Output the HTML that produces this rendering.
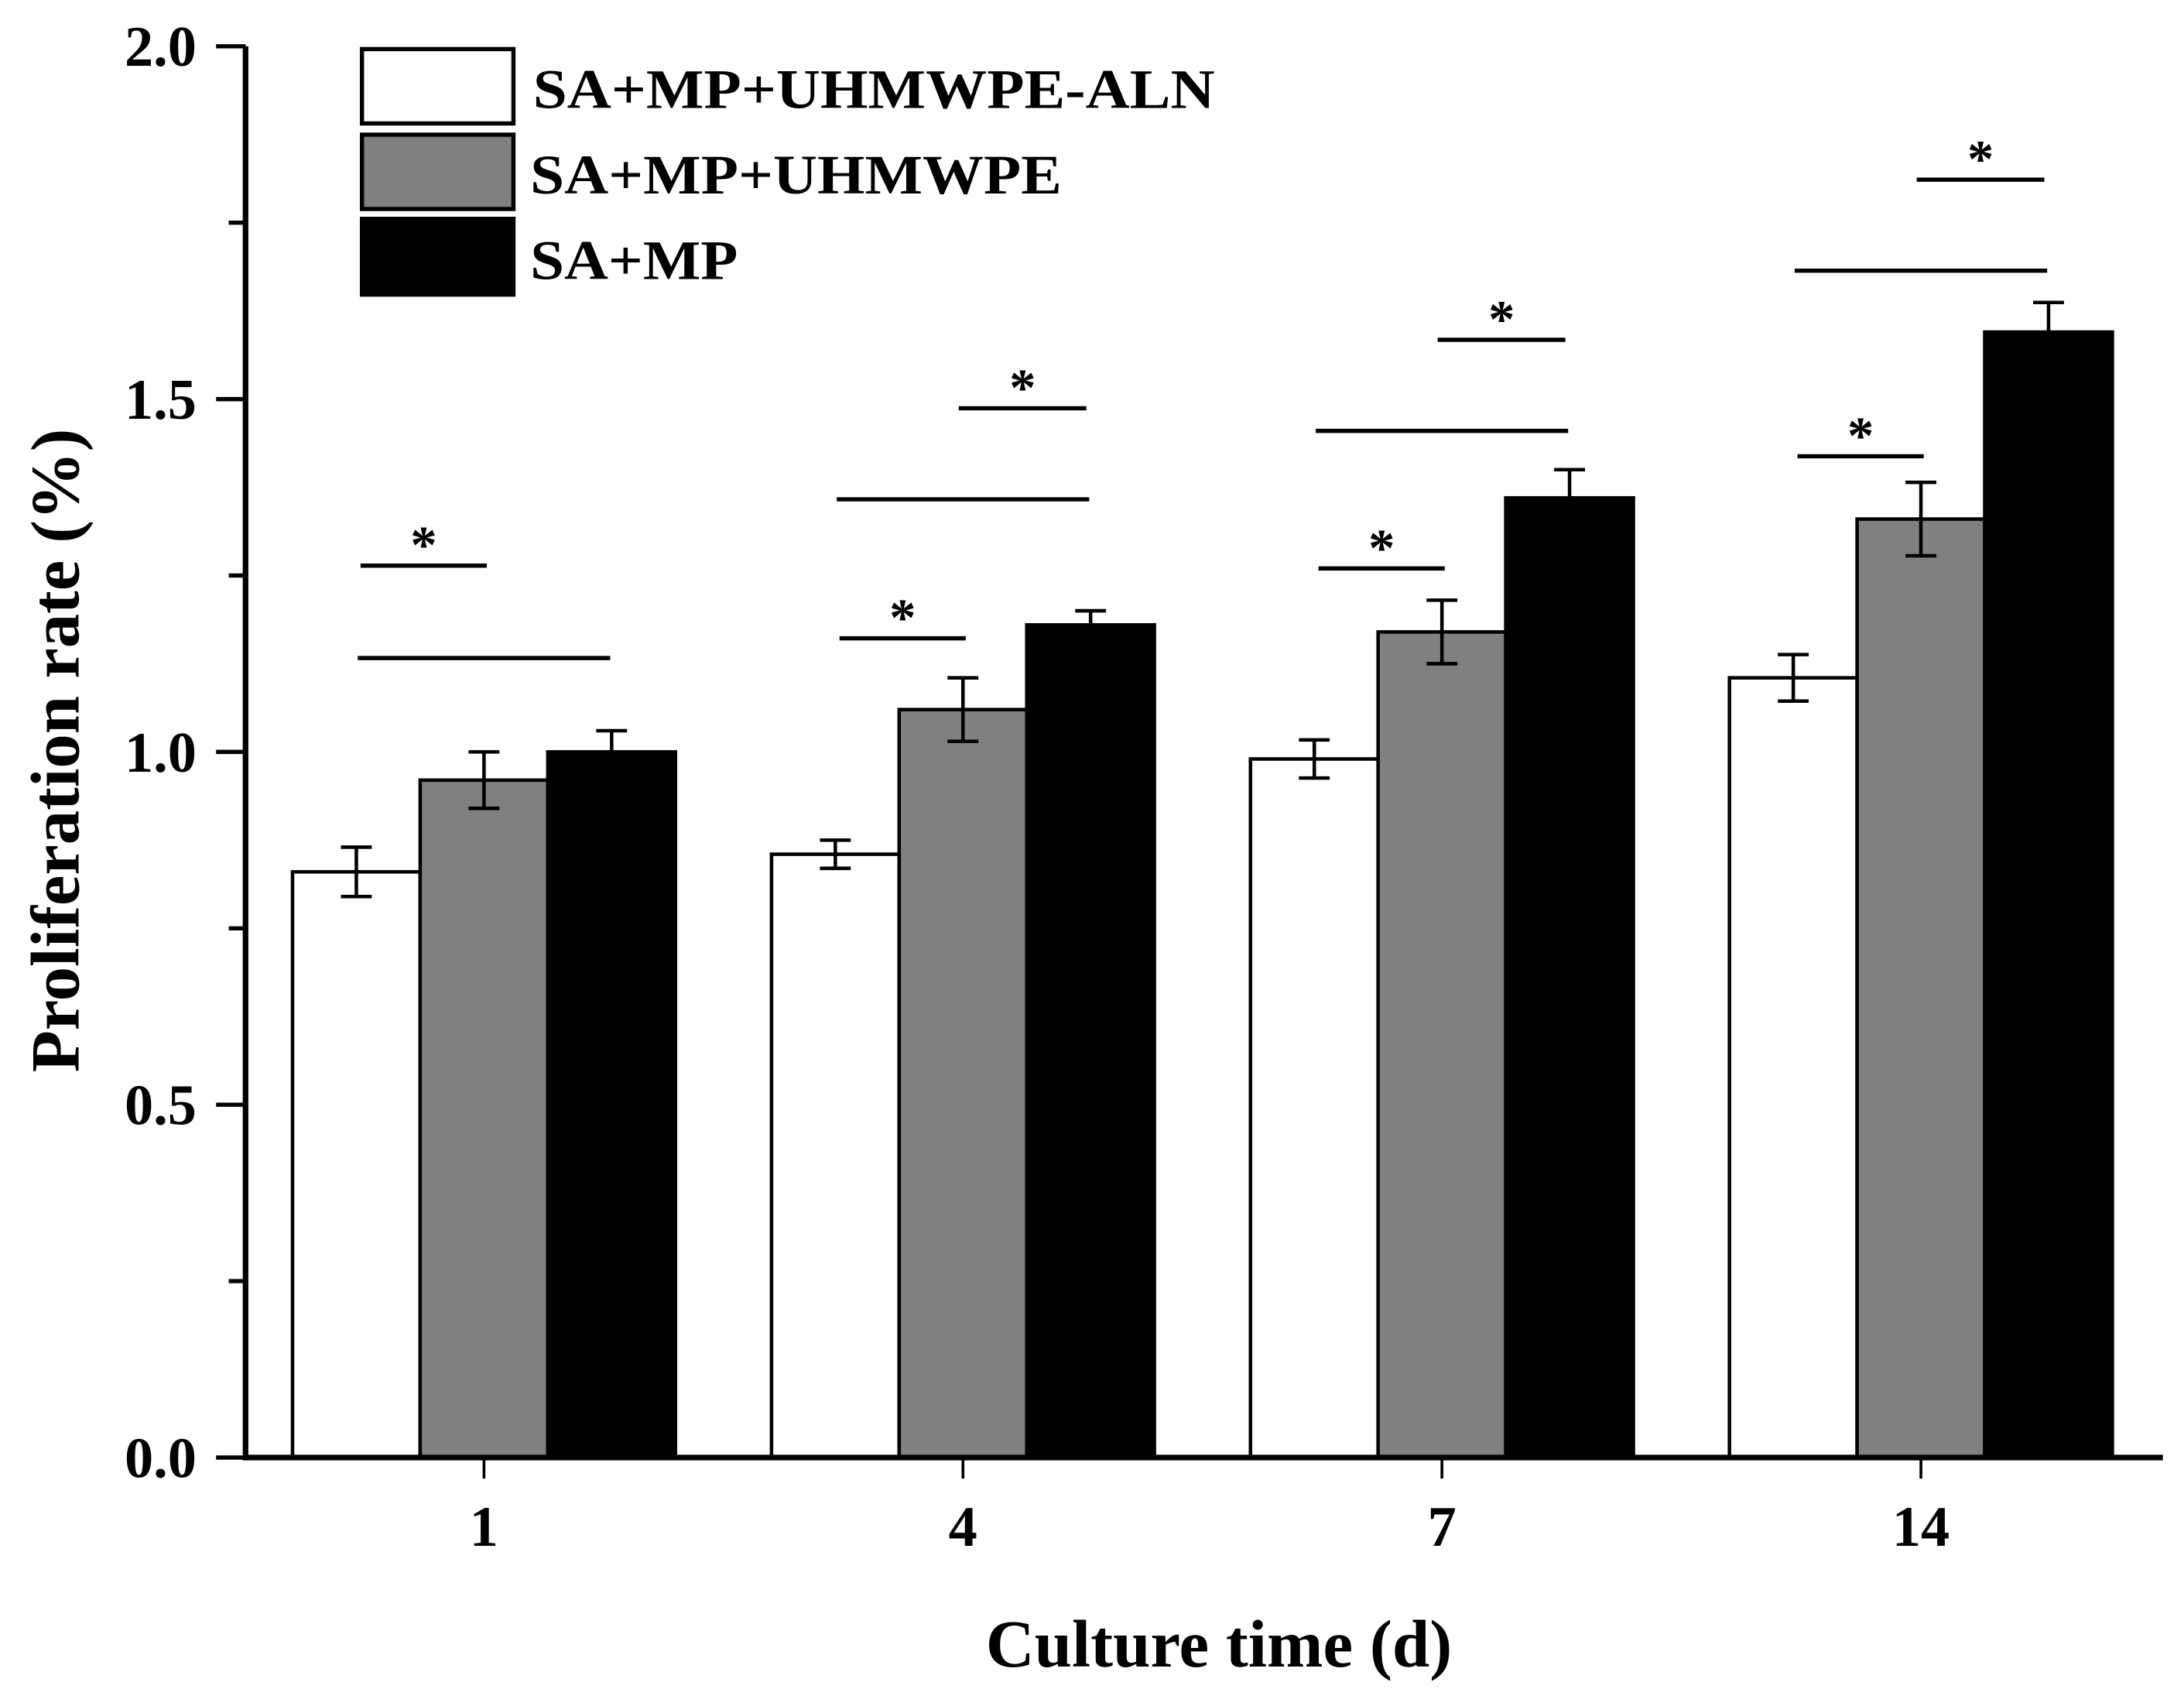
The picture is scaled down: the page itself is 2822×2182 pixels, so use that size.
<!DOCTYPE html>
<html><head><meta charset="utf-8"><style>
html,body{margin:0;padding:0;background:#fff;}
svg{display:block;}
</style></head><body>
<svg id="chart" width="2822" height="2182" viewBox="0 0 1557 1204" xmlns="http://www.w3.org/2000/svg">
<g id="legend">
<rect x="258" y="35" width="108" height="53" fill="#fff" stroke="#000" stroke-width="3"/>
<text x="380" y="77" textLength="486" lengthAdjust="spacingAndGlyphs" font-family="Liberation Serif, serif" font-weight="bold" font-size="40">SA+MP+UHMWPE-ALN</text>
<rect x="258" y="96" width="108" height="53" fill="#808080" stroke="#000" stroke-width="3"/>
<text x="378" y="138" textLength="379" lengthAdjust="spacingAndGlyphs" font-family="Liberation Serif, serif" font-weight="bold" font-size="40">SA+MP+UHMWPE</text>
<rect x="258" y="156" width="108" height="54" fill="#000" stroke="#000" stroke-width="3"/>
<text x="378" y="199" textLength="148" lengthAdjust="spacingAndGlyphs" font-family="Liberation Serif, serif" font-weight="bold" font-size="40">SA+MP</text>
</g>
<g id="marks"></g>
<text x="869" y="1188" text-anchor="middle" font-family="Liberation Serif, serif" font-weight="bold" font-size="48">Culture time (d)</text>
<text transform="translate(56,535) rotate(-90)" text-anchor="middle" font-family="Liberation Serif, serif" font-weight="bold" font-size="49">Proliferation rate (%)</text>
</svg>
<script>
const categories = ["1", "4", "7", "14"];
const seriesAln = [0.83, 0.855, 0.99, 1.105];
const errAln = [0.035, 0.02, 0.027, 0.033];
const seriesUhm = [0.96, 1.06, 1.17, 1.33];
const errUhm = [0.04, 0.045, 0.045, 0.052];
const seriesSamp = [1.00, 1.18, 1.36, 1.595];
const errSamp = [0.03, 0.02, 0.04, 0.042];
const yTicks = [0, 0.5, 1.0, 1.5, 2.0];
const yTickLabels = ["0.0", "0.5", "1.0", "1.5", "2.0"];
// significance brackets: category index, type (0 = left pair, 1 = outer pair, 2 = right pair), level, star
const sigGroup = [0, 0, 1, 1, 1, 2, 2, 2, 3, 3, 3];
const sigType = [0, 1, 0, 1, 2, 0, 1, 2, 0, 1, 2];
const sigLevel = [1.264, 1.133, 1.161, 1.358, 1.487, 1.26, 1.455, 1.584, 1.419, 1.682, 1.811];
const sigStar = [1, 0, 1, 0, 1, 1, 0, 1, 1, 0, 1];

const NS = "http://www.w3.org/2000/svg";
const g = document.getElementById('marks');
const X0 = 175, X1 = 1542, Y0 = 1039, Y1 = 33;
const BW = 91;
function yScale(v){ return Y0 - (v / 2.0) * (Y0 - Y1); }
function xCenter(i){ return 345 + i * 341.5; }
function barX(i, s){ return xCenter(i) - 1.5 * BW + s * BW; }
function mk(tag, attrs){ const e = document.createElementNS(NS, tag); for (const k in attrs) e.setAttribute(k, attrs[k]); g.appendChild(e); return e; }

const series = [seriesAln, seriesUhm, seriesSamp];
const errs = [errAln, errUhm, errSamp];
const fills = ["#fff", "#808080", "#000"];
const names = ["aln", "uhmwpe", "samp"];
for (let s = 0; s < 3; s++) {
  for (let i = 0; i < categories.length; i++) {
    const v = series[s][i], e = errs[s][i];
    const x = barX(i, s);
    const r = mk('rect', {x: x, y: yScale(v), width: BW, height: Y0 - yScale(v), fill: fills[s], stroke: "#000", "stroke-width": 2.5});
    
    
    const cx = x + BW / 2;
    const eb = mk('path', {d: `M${cx} ${yScale(v + e)}V${yScale(v - e)}M${cx - 11} ${yScale(v + e)}H${cx + 11}M${cx - 11} ${yScale(v - e)}H${cx + 11}`, stroke: "#000", "stroke-width": 2.5, fill: "none"});
    
    
  }
}
const typeStart = [-88, -90, -3];
const typeEnd = [2, 90, 88];
for (let k = 0; k < sigGroup.length; k++) {
  const c = xCenter(sigGroup[k]);
  const xa = c + typeStart[sigType[k]];
  const xb = c + typeEnd[sigType[k]];
  const y = yScale(sigLevel[k]);
  const l = mk('line', {x1: xa, x2: xb, y1: y, y2: y, stroke: "#000", "stroke-width": 3});
  
  
  if (sigStar[k]) {
    const t = mk('text', {x: (xa + xb) / 2, y: y - 2, "text-anchor": "middle", "font-family": "Liberation Serif, serif", "font-weight": "bold", "font-size": 38});
    t.textContent = "*";
    
    
  }
}
const ax = mk('path', {d: `M${X0} ${Y1}V${Y0}H${X1}`, stroke: "#000", "stroke-width": 4, fill: "none"});


for (let j = 0; j < yTicks.length; j++) {
  const y = yScale(yTicks[j]);
  const t = mk('line', {x1: X0 - 21, x2: X0, y1: y, y2: y, stroke: "#000", "stroke-width": 3});
  
  
  const lb = mk('text', {x: 140, y: y + 14, "text-anchor": "end", "font-family": "Liberation Serif, serif", "font-weight": "bold", "font-size": 41});
  lb.textContent = yTickLabels[j];
  
  
  if (j < yTicks.length - 1) {
    const ym = yScale((yTicks[j] + yTicks[j + 1]) / 2);
    const m = mk('line', {x1: X0 - 12, x2: X0, y1: ym, y2: ym, stroke: "#000", "stroke-width": 3});
    
    
  }
}
for (let i = 0; i < categories.length; i++) {
  const x = xCenter(i);
  const t = mk('line', {x1: x, x2: x, y1: Y0, y2: Y0 + 15, stroke: "#000", "stroke-width": 2});
  
  
  const lb = mk('text', {x: x, y: 1102, "text-anchor": "middle", "font-family": "Liberation Serif, serif", "font-weight": "bold", "font-size": 41});
  lb.textContent = categories[i];
  
  
}
</script>
</body></html>
